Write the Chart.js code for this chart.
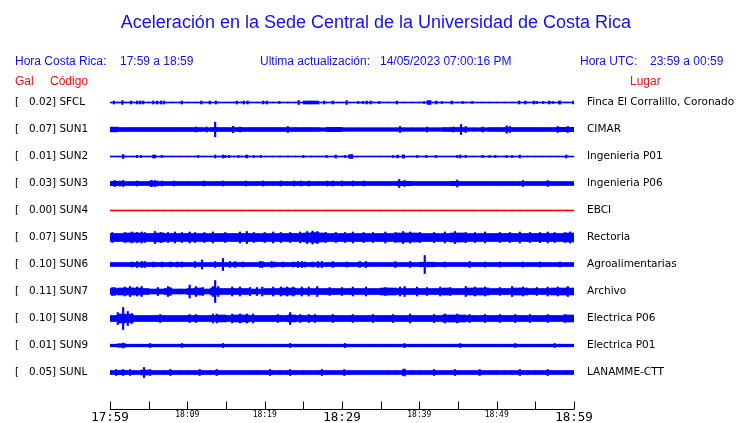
<!DOCTYPE html>
<html lang="es">
<head>
<meta charset="utf-8">
<title>Aceleración en la Sede Central de la Universidad de Costa Rica</title>
<script src="https://cdn.jsdelivr.net/npm/chart.js@4/dist/chart.umd.min.js"></script>
<style>
    html, body { margin: 0; padding: 0; background: #fff; }
    #wrap { position: relative; width: 740px; height: 423px; overflow: hidden; }
    #chart { position: absolute; left: 0; top: 0; }
    .txt { position: absolute; white-space: pre; font-family: 'Liberation Sans', Arial, sans-serif; }
    .title { left: 6px; width: 740px; top: 13px; font-size: 18px; line-height: 18px; color: #1010f0; text-align: center; }
    .head { top: 55px; font-size: 12px; line-height: 12px; color: #1010f0; }
    .sub { top: 75px; font-size: 12px; line-height: 12px; color: #f01010; }
</style>
</head>
<body>
<div id="wrap">
    <canvas id="chart" width="740" height="423"></canvas>
    <div class="txt title">Aceleración en la Sede Central de la Universidad de Costa Rica</div>
    <div class="txt head" style="left:15px">Hora Costa Rica:</div>
    <div class="txt head" style="left:120px">17:59 a 18:59</div>
    <div class="txt head" style="left:260px">Ultima actualización:</div>
    <div class="txt head" style="left:380px">14/05/2023 07:00:16 PM</div>
    <div class="txt head" style="left:580px">Hora UTC:</div>
    <div class="txt head" style="left:650px">23:59 a 00:59</div>
    <div class="txt sub" style="left:15px">Gal</div>
    <div class="txt sub" style="left:50px">Código</div>
    <div class="txt sub" style="left:630px">Lugar</div>
</div>
<script>
// station data
const CODES = ['SFCL', 'SUN1', 'SUN2', 'SUN3', 'SUN4', 'SUN5', 'SUN6', 'SUN7', 'SUN8', 'SUN9', 'SUNL'];
const PEAK_GAL = [0.02, 0.07, 0.01, 0.03, 0.00, 0.07, 0.10, 0.11, 0.10, 0.01, 0.05];
const PLACES = ['Finca El Corralillo, Coronado', 'CIMAR', 'Ingenieria P01', 'Ingenieria P06', 'EBCI',
    'Rectoria', 'Agroalimentarias', 'Archivo', 'Electrica P06', 'Electrica P01', 'LANAMME-CTT'];
const TRACE_COLORS = ['#0000ff', '#0000ff', '#0000ff', '#0000ff', '#ff0000',
    '#0000ff', '#0000ff', '#0000ff', '#0000ff', '#0000ff', '#0000ff'];

// time axis (minutes after 17:59)
const TIME_TICKS = [0, 5, 10, 15, 20, 25, 30, 35, 40, 45, 50, 55, 60];
const TIME_LABELS = ['17:59', '', '18:09', '', '18:19', '', '18:29', '', '18:39', '', '18:49', '', '18:59'];
const TIME_LABEL_BIG = [true, false, false, false, false, false, true, false, false, false, false, false, true];

// background amplitude per minute (half band height, relative units)
const SFCL_ENV = [0.5,0.5,0.5,0.5,0.5,0.5,0.5,0.5,0.5,0.5, 0.5,0.5,0.5,0.5,0.5,0.5,0.5,0.5,0.5,0.5,
    0.5,0.5,0.5,0.5,0.5,1.5,1.5,0.5,0.5,0.5, 0.5,0.5,0.5,0.5,0.5,0.5,0.5,0.5,0.5,0.5,
    0.5,0.5,0.5,0.5,0.5,0.5,0.5,0.5,0.5,0.5, 0.5,0.5,0.5,0.5,0.5,0.5,0.5,0.5,0.5,0.5];
const SUN1_ENV = [2.4,2.0,2.0,2.0,2.0,2.0,2.0,2.0,2.0,2.0, 2.0,2.0,1.8,2.0,2.0,2.0,2.0,2.0,2.0,2.0,
    2.0,2.0,2.0,2.0,2.0,2.0,2.0,1.8,2.2,2.2, 1.8,1.8,1.8,1.8,1.8,1.8,1.8,1.8,1.8,1.8,
    1.8,1.8,1.8,2.0,2.0,2.0,1.8,1.8,1.8,2.0, 2.0,2.0,2.0,2.0,2.0,2.0,2.0,2.0,2.2,2.2];
const SUN2_ENV = [0.5,0.5,0.5,0.5,0.5,0.5,0.5,0.5,0.5,0.5, 0.5,0.5,0.5,0.5,0.5,0.5,0.5,0.5,0.5,0.5,
    0.5,0.5,0.5,0.5,0.5,0.5,0.5,0.5,0.5,0.5, 0.5,0.5,0.5,0.5,0.5,0.5,0.5,0.5,0.5,0.5,
    0.5,0.5,0.5,0.5,0.5,0.5,0.5,0.5,0.5,0.5, 0.5,0.5,0.5,0.5,0.5,0.5,0.5,0.5,0.5,0.5];
const SUN3_ENV = [2.2,2.0,2.0,2.0,2.0,2.2,2.0,2.0,2.0,2.0, 2.0,2.0,2.0,2.0,2.0,2.0,2.0,2.0,2.0,2.0,
    2.0,2.0,2.0,2.0,2.0,2.0,2.0,2.0,2.0,2.0, 2.0,2.0,2.0,2.0,2.0,2.0,2.0,2.2,2.2,2.0,
    2.0,2.0,2.0,2.0,2.2,2.0,2.0,2.0,2.0,2.0, 2.0,2.0,2.0,2.0,2.0,2.0,2.0,2.0,2.0,2.0];
const SUN4_ENV = [0.5,0.5,0.5,0.5,0.5,0.5,0.5,0.5,0.5,0.5, 0.5,0.5,0.5,0.5,0.5,0.5,0.5,0.5,0.5,0.5,
    0.5,0.5,0.5,0.5,0.5,0.5,0.5,0.5,0.5,0.5, 0.5,0.5,0.5,0.5,0.5,0.5,0.5,0.5,0.5,0.5,
    0.5,0.5,0.5,0.5,0.5,0.5,0.5,0.5,0.5,0.5, 0.5,0.5,0.5,0.5,0.5,0.5,0.5,0.5,0.5,0.5];
const SUN5_ENV = [4.0,4.0,4.5,4.5,4.0,4.0,4.5,4.0,4.0,4.0, 4.0,4.0,4.0,4.0,4.0,4.0,4.0,4.0,4.0,4.0,
    4.0,4.0,4.0,4.0,4.0,4.5,5.0,4.5,4.0,4.0, 4.0,4.0,4.0,4.0,4.0,4.0,4.0,4.5,4.5,4.5,
    4.0,4.0,4.0,4.0,4.5,4.5,4.0,4.0,4.0,4.0, 4.0,4.0,4.0,4.0,4.0,4.0,4.0,4.0,4.0,4.5];
const SUN6_ENV = [2.0,2.0,2.0,2.0,2.0,2.0,2.0,2.0,2.0,2.0, 2.0,2.0,2.0,2.0,2.0,2.0,2.0,2.0,2.0,2.0,
    2.0,2.0,2.0,2.0,2.0,2.0,2.0,2.0,2.0,2.0, 2.0,2.0,2.0,2.0,2.0,2.0,2.0,2.0,2.0,2.0,
    2.3,2.3,2.0,2.0,2.0,2.0,2.0,2.0,2.0,2.0, 2.0,2.0,2.0,2.0,2.0,2.0,2.0,2.0,2.0,2.0];
const SUN7_ENV = [3.0,3.5,3.5,3.5,3.0,2.5,2.5,3.0,2.5,2.5, 3.0,3.5,2.5,3.5,3.0,3.0,3.0,3.0,2.5,2.5,
    3.0,3.0,3.5,3.5,3.0,3.0,3.0,3.0,3.0,3.0, 3.0,3.0,3.0,3.0,3.0,3.5,3.5,3.0,3.0,3.0,
    3.0,3.0,3.0,3.5,3.0,3.0,3.5,3.5,3.5,3.0, 3.0,3.0,3.5,3.5,3.0,3.0,3.0,3.5,3.5,3.5];
const SUN8_ENV = [3.0,4.5,4.0,3.0,3.0,3.0,3.0,3.0,3.0,3.0, 3.0,3.0,3.0,3.0,3.5,3.0,3.5,3.5,3.0,3.0,
    3.0,3.0,3.0,3.5,3.0,3.0,3.0,3.0,3.0,3.0, 3.0,3.0,3.0,3.0,3.0,3.0,3.0,3.0,3.0,3.0,
    3.0,3.0,3.0,3.5,3.5,3.5,3.0,3.0,3.0,3.0, 3.0,3.0,3.0,3.0,3.0,3.0,3.0,3.0,3.0,3.5];
const SUN9_ENV = [1.3,1.8,1.3,1.3,1.3,1.3,1.3,1.3,1.3,1.3, 1.3,1.3,1.3,1.3,1.3,1.3,1.3,1.3,1.3,1.3,
    1.3,1.3,1.3,1.3,1.3,1.3,1.3,1.3,1.3,1.3, 1.3,1.3,1.3,1.3,1.3,1.3,1.3,1.3,1.3,1.3,
    1.3,1.3,1.3,1.3,1.3,1.3,1.3,1.3,1.3,1.3, 1.3,1.3,1.3,1.3,1.3,1.3,1.3,1.3,1.3,1.3];
const SUNL_ENV = [2.0,2.2,2.0,2.0,2.5,2.0,2.0,2.0,2.0,2.0, 2.0,2.0,2.0,2.0,2.0,2.0,2.0,2.0,2.0,2.0,
    2.0,2.0,2.0,2.0,2.0,2.0,2.0,2.0,2.0,2.0, 2.0,2.0,2.0,2.0,2.0,2.0,2.0,2.0,2.0,2.0,
    2.0,2.0,2.0,2.0,2.0,2.0,2.0,2.0,2.0,2.0, 2.0,2.0,2.0,2.0,2.0,2.0,2.0,2.0,2.0,2.0];

// spikes: [minute, half amplitude]
const SFCL_SPIKES = [[0.5,1.5],[1.6,2],[2.7,1.5],[3.5,1.5],[3.9,1.5],[4.3,1.5],[5.6,1.5],[6.1,1.5],[6.6,1.5],
    [7.0,1.5],[9.3,1.5],[11.8,1.5],[12.9,1.5],[13.7,1.5],[16.4,1.5],[17.3,1.5],[17.8,1.5],[19.8,1.5],[20.3,1.5],
    [21.9,1],[24.4,2],[27.7,1.5],[28.8,1.5],[30.6,2],[32.1,1],[32.7,1],[33.2,1.5],[33.7,1.5],[34.8,1],[37.1,1.5],
    [40.6,1],[41.1,2],[41.4,2],[42.2,1.5],[42.9,1],[44.2,1.5],[45.6,1],[46.8,1],[52.9,1.5],[53.7,1.5],[54.8,1.5],
    [55.2,1],[56.0,1],[56.8,1.5],[57.3,1],[58.1,1.5],[58.2,1.5],[59.9,1.5]];
const SUN1_SPIKES = [[11.1,2.5],[12.5,2.5],[13.6,7.3],[15.9,3.3],[16.8,2.5],[23.0,3],[37.5,3],[41.0,2.5],
    [44.4,2.5],[45.4,5],[46.0,3],[48.2,2.5],[51.3,3.8],[51.7,3],[57.9,3],[59.2,3]];
const SUN2_SPIKES = [[1.7,2],[3.5,1],[4.0,1],[5.6,1.5],[5.8,1.5],[6.7,1],[11.4,1],[13.6,1.5],[14.6,1.5],
    [14.9,1],[15.4,1],[16.6,1],[17.6,1],[17.7,1.5],[18.6,1],[19.5,1],[25.0,1],[28.0,1],[29.2,1.5],[30.4,1],
    [30.9,1],[31.0,2],[31.3,2],[36.6,1],[37.2,1.5],[37.9,1.5],[38.0,1.5],[39.7,1],[40.9,1],[42.2,1],[44.9,1],
    [45.3,1.5],[46.0,1],[48.2,1],[49.1,1],[49.8,1],[51.3,1],[52.0,1],[53.0,1.5],[59.0,1.5]];
const SUN3_SPIKES = [[0.6,3],[1.3,2.5],[1.7,3],[3.5,2.5],[5.3,3],[5.4,3],[5.8,3],[6.1,2.5],[6.7,2.5],
    [8.3,2.5],[12.2,2.5],[14.6,2.5],[17.6,2.5],[19.8,2.5],[22.1,2.5],[23.8,2.5],[24.7,2.5],[25.7,2.5],
    [28.1,2.5],[28.8,2.5],[30.0,2.5],[31.4,2.5],[32.8,2.5],[37.4,4],[38.1,3],[44.9,3.5],[53.4,3],[56.6,3]];
const SUN4_SPIKES = [];
const SUN5_SPIKES = [[0.3,5],[1.9,5],[2.8,5.5],[3.5,5],[4.1,5.5],[4.5,5],[5.8,6],[6.6,5],[7.5,5],[8.4,5.5],
    [9.3,5],[10.3,5.5],[11.0,5],[12.2,5],[13.3,5.5],[14.9,5],[16.8,5.5],[17.7,6],[18.6,5],[20.0,5],[21.1,5.5],
    [22.1,5],[23.3,5],[24.6,5.5],[25.5,6],[26.2,6.5],[26.8,6],[27.9,5],[29.2,5],[30.4,5],[31.4,5.5],[32.8,5],
    [34.0,5],[35.6,5.5],[36.9,5],[37.9,6],[38.8,5.5],[40.1,5],[41.9,5],[43.3,5.5],[44.6,6],[46.0,5],[47.2,5],
    [48.5,5.5],[50.4,5],[51.7,5],[53.0,5.5],[54.3,5],[55.6,5],[56.6,5.5],[57.5,5],[58.8,5],[59.5,5.5]];
const SUN6_SPIKES = [[2.8,2.5],[3.5,3],[4.1,3],[4.5,3],[5.6,2.5],[6.7,2.5],[7.8,2.5],[8.7,2.5],[9.3,2.5],
    [11.0,3],[11.9,4.5],[13.6,3],[14.6,6],[15.5,3],[16.2,3],[17.2,2.5],[19.4,3],[19.7,3],[20.9,3],[21.3,2.5],
    [22.4,2.5],[23.7,2.5],[24.3,3],[24.8,3],[25.2,2.5],[26.2,2.5],[26.9,3],[27.4,3],[28.8,3],[30.6,2.5],
    [32.3,3],[33.1,3],[36.9,3],[38.8,3],[40.7,9],[43.3,2.5],[46.5,3],[48.5,2.5],[50.4,2.5],[53.4,2.5],
    [55.6,2.5],[58.2,2.5]];
const SUN7_SPIKES = [[0.3,4],[0.6,4],[1.9,4.5],[2.6,5],[3.5,4.5],[4.1,5],[6.2,4],[7.5,5],[7.8,4],[10.3,6.5],
    [11.1,5],[12.0,4],[13.3,5],[13.6,11],[14.0,5],[15.8,4.5],[16.8,4.5],[18.1,4],[19.0,4],[19.7,4.5],[21.1,4.5],
    [22.1,4.5],[22.9,4.5],[23.7,4.5],[24.8,4.5],[25.7,4.5],[26.8,5],[28.4,4],[30.0,4],[31.4,4.5],[33.1,4.5],
    [35.6,4],[37.5,4.5],[38.1,5],[39.7,4.5],[41.0,4],[42.7,4.5],[44.0,4],[46.0,5],[47.2,4.5],[48.5,4.5],
    [50.4,4],[52.0,5],[53.4,4.5],[55.2,4],[56.6,4.5],[57.9,4.5],[59.2,5]];
const SUN8_SPIKES = [[1.0,6],[1.7,11],[2.3,7],[2.8,5],[6.5,4],[10.3,4],[11.1,4],[13.3,4.5],[13.8,4.5],
    [15.8,4.5],[16.8,4.5],[17.7,4.5],[18.5,4.5],[21.7,4],[23.3,6],[24.6,4],[25.7,4],[26.5,4],[28.8,4],
    [31.4,4],[34.0,4],[36.6,4],[38.8,4.5],[41.9,4],[43.3,4.5],[44.9,4.5],[46.5,4],[48.5,4],[50.4,4],
    [52.4,4],[54.3,4],[56.6,4],[58.8,4]];
const SUN9_SPIKES = [[1.7,2.5],[5.2,2],[9.3,2],[14.6,2],[23.3,2],[30.4,2],[38.1,2],[45.3,2],[52.4,2],[57.5,2]];
const SUNL_SPIKES = [[0.8,3],[1.7,3],[2.6,3],[4.4,5],[5.2,3],[7.8,3],[11.6,3],[13.8,3],[20.7,3],[23.3,3],
    [27.4,3],[30.3,3],[37.9,3],[38.1,3.5],[41.9,3],[44.6,3],[47.8,3],[53.0,3],[56.6,3]];

const ENVELOPES = [SFCL_ENV, SUN1_ENV, SUN2_ENV, SUN3_ENV, SUN4_ENV, SUN5_ENV, SUN6_ENV, SUN7_ENV, SUN8_ENV, SUN9_ENV, SUNL_ENV];
const SPIKES = [SFCL_SPIKES, SUN1_SPIKES, SUN2_SPIKES, SUN3_SPIKES, SUN4_SPIKES, SUN5_SPIKES, SUN6_SPIKES,
    SUN7_SPIKES, SUN8_SPIKES, SUN9_SPIKES, SUNL_SPIKES];

// layout: one trace every TRACE_GAP units on the y scale
const TRACE_GAP = 27;
const offsets = CODES.map((c, i) => i * TRACE_GAP);

const leftLabels = CODES.map((c, i) => `[   ${PEAK_GAL[i].toFixed(2)}] ${c}`);

const datasets = [];
ENVELOPES.forEach((env, i) => {
    datasets.push({
        label: CODES[i],
        data: env.map((a, m) => ({ x: m + 0.5, y: [offsets[i] - a, offsets[i] + a] })),
        backgroundColor: TRACE_COLORS[i],
        barThickness: 8,
        grouped: false
    });
});
SPIKES.forEach((list, i) => {
    datasets.push({
        label: CODES[i] + ' picos',
        data: list.map(([m, a]) => ({ x: m, y: [offsets[i] - a, offsets[i] + a] })),
        backgroundColor: TRACE_COLORS[i],
        barThickness: 1.5,
        grouped: false
    });
});

// x axis drawn with ticks pointing up, labels under the line
const timeAxisPlugin = {
    id: 'timeAxis',
    afterDraw(chart) {
        const { ctx, chartArea, scales } = chart;
        const xs = scales.x;
        const y0 = Math.round(chartArea.bottom) + 0.5;
        ctx.save();
        ctx.strokeStyle = '#000';
        ctx.lineWidth = 1;
        ctx.beginPath();
        ctx.moveTo(xs.getPixelForValue(TIME_TICKS[0]), y0);
        ctx.lineTo(xs.getPixelForValue(TIME_TICKS[TIME_TICKS.length - 1]), y0);
        TIME_TICKS.forEach(t => {
            const px = Math.round(xs.getPixelForValue(t)) + 0.5;
            ctx.moveTo(px, y0);
            ctx.lineTo(px, y0 - 8);
        });
        ctx.stroke();
        ctx.fillStyle = '#000';
        ctx.textAlign = 'center';
        TIME_TICKS.forEach((t, i) => {
            if (!TIME_LABELS[i]) return;
            const px = xs.getPixelForValue(t);
            if (TIME_LABEL_BIG[i]) {
                ctx.font = '12.5px "DejaVu Sans Mono"';
                ctx.fillText(TIME_LABELS[i], px, y0 + 11.5);
            } else {
                ctx.font = '8px "DejaVu Sans Mono"';
                ctx.fillText(TIME_LABELS[i], px, y0 + 7.5);
            }
        });
        ctx.restore();
    }
};

const traceTicks = scale => {
    scale.ticks = offsets.map(v => ({ value: v }));
};

new Chart(document.getElementById('chart'), {
    type: 'bar',
    data: { datasets },
    options: {
        responsive: false,
        animation: false,
        events: [],
        layout: { padding: { left: 15, right: 0, top: 86, bottom: 14 } },
        plugins: { legend: { display: false }, tooltip: { enabled: false } },
        scales: {
            x: {
                type: 'linear', min: 0, max: 60, offset: false, display: false,
                grid: { offset: false }
            },
            y: {
                type: 'linear', position: 'left', reverse: true, min: -16.5, max: 306.5,
                grid: { display: false, drawTicks: false }, border: { display: false },
                afterBuildTicks: traceTicks,
                afterFit: s => { s.width = 95; },
                ticks: {
                    autoSkip: false, crossAlign: 'far', padding: 0, color: '#000',
                    font: { family: 'DejaVu Sans', size: 10.4 },
                    callback: (v, i) => leftLabels[i]
                }
            },
            y2: {
                type: 'linear', position: 'right', reverse: true, min: -16.5, max: 306.5,
                // tickLength gives the gap before the place names (ticks themselves are hidden)
                grid: { display: false, drawTicks: true, tickLength: 13 }, border: { display: false },
                afterBuildTicks: traceTicks,
                afterFit: s => { s.width = 166; },
                ticks: {
                    autoSkip: false, padding: 0, color: '#000',
                    font: { family: 'DejaVu Sans', size: 10.5 },
                    callback: (v, i) => PLACES[i]
                }
            }
        }
    },
    plugins: [timeAxisPlugin]
});
</script>
</body>
</html>
